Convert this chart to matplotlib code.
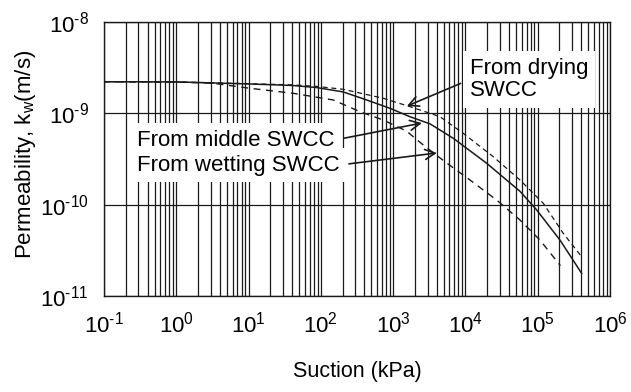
import matplotlib
matplotlib.use("Agg")
import matplotlib.pyplot as plt
from matplotlib.ticker import LogLocator, NullFormatter, FuncFormatter
import numpy as np

plt.rcParams['font.family'] = ['Liberation Sans', 'DejaVu Sans']
plt.rcParams['mathtext.fontset'] = 'custom'
plt.rcParams['mathtext.rm'] = 'Liberation Sans'
plt.rcParams['mathtext.it'] = 'Liberation Sans:italic'
plt.rcParams['mathtext.bf'] = 'Liberation Sans:bold'

# Permeability functions (suction in kPa, k_w in m/s)
suction_drying = [0.1, 1, 10.5, 40, 87.5, 204, 730, 1710, 3236, 4446, 9333,
                  24270, 56890, 119400, 225900, 405500]
kw_drying = [2.218e-9, 2.208e-9, 2.109e-9, 2.05e-9, 1.972e-9, 1.832e-9, 1.462e-9,
             1.183e-9, 1.0e-9, 9.18e-10, 6.04e-10, 3.35e-10, 1.862e-10,
             1.035e-10, 4.85e-11, 2.69e-11]

suction_middle = [0.1, 1, 10.5, 40, 87.5, 204, 431, 904, 1710, 3236, 6792,
                  19680, 56890, 96830, 203200, 405500]
kw_middle = [2.218e-9, 2.208e-9, 2.094e-9, 2.02e-9, 1.915e-9, 1.715e-9, 1.400e-9,
             1.135e-9, 9.18e-10, 7.67e-10, 5.33e-10, 2.84e-10, 1.40e-10,
             8.75e-11, 4.10e-11, 1.77e-11]

suction_wetting = [0.1, 1, 3.16, 10.5, 41.6, 148.6, 347.5, 730, 1538, 2612,
                   5212, 11560, 27040, 56890, 107400, 206000]
kw_wetting = [2.218e-9, 2.198e-9, 2.138e-9, 1.879e-9, 1.656e-9, 1.400e-9,
              1.042e-9, 8.45e-10, 6.38e-10, 4.50e-10, 2.95e-10, 1.862e-10,
              1.125e-10, 6.79e-11, 4.10e-11, 2.15e-11]

fig = plt.figure(figsize=(6.31, 3.92), dpi=100)
ax = fig.add_axes([0.1648, 0.2449, 0.8019, 0.6990])

ax.set_xscale('log')
ax.set_yscale('log')
ax.set_xlim(1e-1, 1e6)
ax.set_ylim(1e-11, 1e-8)


def decade_label(v, pos):
    e = int(round(np.log10(v)))
    sign = '\u2010' if e < 0 else ''
    return r'$\mathregular{10^{%s%d}}$' % (sign, abs(e))


ax.xaxis.set_major_locator(LogLocator(base=10, numticks=20))
ax.xaxis.set_minor_locator(LogLocator(base=10, subs=range(2, 10), numticks=20))
ax.xaxis.set_major_formatter(FuncFormatter(decade_label))
ax.xaxis.set_minor_formatter(NullFormatter())
ax.yaxis.set_major_locator(LogLocator(base=10, numticks=20))
ax.yaxis.set_minor_locator(LogLocator(base=10, subs=[], numticks=20))
ax.yaxis.set_major_formatter(FuncFormatter(decade_label))

ax.grid(True, which='both', axis='x', color='#1a1a1a', lw=0.9, zorder=1)
ax.grid(True, which='major', axis='y', color='#1a1a1a', lw=0.9, zorder=1)
ax.set_axisbelow(True)

ax.tick_params(which='both', length=0, labelsize=16, pad=11)
for s in ax.spines.values():
    s.set_linewidth(1.0)
    s.set_color('#1a1a1a')

ax.plot(suction_drying, kw_drying, color='#1a1a1a', lw=0.9, ls=(0, (4, 3)), zorder=3)
ax.plot(suction_middle, kw_middle, color='#1a1a1a', lw=1.1, ls='-', zorder=3)
ax.plot(suction_wetting, kw_wetting, color='#1a1a1a', lw=1.0, ls=(0, (5, 4)), zorder=3)

ax.set_xlabel('Suction (kPa)', fontsize=15.5, labelpad=17)
ax.set_ylabel(r'Permeability, k$_{\mathregular{w}}$(m/s)', fontsize=16)
ax.yaxis.set_label_coords(-0.131, 0.518)

arrow = dict(arrowstyle='->', color='#1a1a1a', lw=1.2, mutation_scale=18,
             shrinkA=2, shrinkB=0)
box = dict(boxstyle='square,pad=0.3', fc='white', ec='none')

ax.annotate('From drying\nSWCC', xy=(1550, 1.2e-9), xycoords='data',
            xytext=(0.723, 0.790), textcoords='axes fraction',
            ha='left', va='center', fontsize=16, linespacing=1.05,
            bbox=box, arrowprops=dict(arrow, relpos=(0, 0.5)), zorder=5)
ax.annotate('From middle SWCC', xy=(2500, 7.83e-10), xycoords='data',
            xytext=(0.065, 0.569), textcoords='axes fraction',
            ha='left', va='center', fontsize=16,
            bbox=box, arrowprops=dict(arrow, relpos=(1, 0.5)), zorder=5)
ax.annotate('From wetting SWCC', xy=(4030, 3.68e-10), xycoords='data',
            xytext=(0.065, 0.478), textcoords='axes fraction',
            ha='left', va='center', fontsize=16,
            bbox=box, arrowprops=dict(arrow, relpos=(1, 0.5)), zorder=5)

fig.savefig('out.png', dpi=100)
